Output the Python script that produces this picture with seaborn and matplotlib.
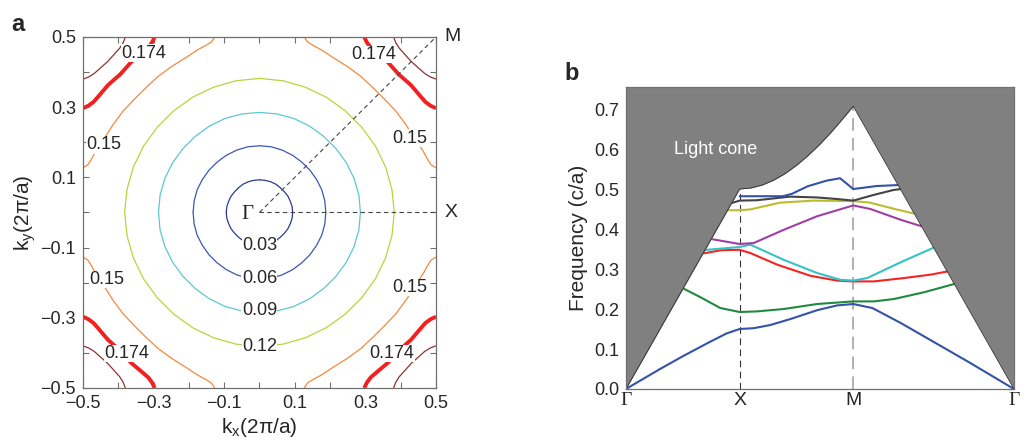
import numpy as np
import pandas as pd
import matplotlib
matplotlib.use('Agg')
import matplotlib.pyplot as plt
import seaborn as sns

##DATA
# panel a: iso-frequency contours of band 1, read in the first quadrant (mirrored by symmetry)
circle_angles = [0, 10, 20, 30, 40, 50, 60, 70, 80, 90]
r_003 = [0.094, 0.094, 0.093, 0.093, 0.092, 0.092, 0.093, 0.093, 0.093, 0.093]
r_006 = [0.188, 0.188, 0.188, 0.187, 0.187, 0.187, 0.188, 0.189, 0.190, 0.190]
r_009 = [0.286, 0.286, 0.285, 0.284, 0.283, 0.283, 0.284, 0.285, 0.285, 0.285]
r_012 = [0.382, 0.381, 0.380, 0.379, 0.378, 0.378, 0.379, 0.380, 0.381, 0.382]

c015_kx = [0.127, 0.136, 0.150, 0.174, 0.212, 0.250, 0.288, 0.321, 0.356, 0.387, 0.415, 0.439, 0.464, 0.477, 0.486, 0.500]
c015_ky = c015_kx[::-1]
c0174_kx = [0.297, 0.304, 0.315, 0.330, 0.363, 0.394, 0.429, 0.457, 0.470, 0.485, 0.500]
c0174_ky = c0174_kx[::-1]
c019_kx = [0.380, 0.386, 0.396, 0.430, 0.468, 0.484, 0.500]
c019_ky = c019_kx[::-1]

clabel_text = ['0.03', '0.06', '0.09', '0.12', '0.15', '0.15', '0.15', '0.15', '0.174', '0.174', '0.174', '0.174']
clabel_x = [0.0, 0.0, 0.0, 0.0, -0.442, -0.432, 0.425, 0.425, -0.328, 0.323, -0.375, 0.375]
clabel_y = [-0.093, -0.188, -0.280, -0.383, 0.193, -0.191, 0.212, -0.214, 0.454, 0.450, -0.402, -0.402]

# panel b: band structure along Gamma-X-M-Gamma (path length in 2pi/a)
sym_pos = [0.0, 0.5, 1.0, 1.707]
sym_labels = ['Γ', 'X', 'M', 'Γ']

light_k = [0.0, 0.5, 0.55, 0.6, 0.65, 0.7, 0.75, 0.8, 0.85, 0.9, 0.95, 1.0, 1.707]
light_f = [0.0, 0.5, 0.5025, 0.51, 0.522, 0.5385, 0.559, 0.583, 0.61, 0.64, 0.673, 0.707, 0.0]

k1 = [0, 0.15, 0.252, 0.37, 0.443, 0.5, 0.562, 0.635, 0.724, 0.841, 0.929, 1.0, 1.084, 1.209, 1.356, 1.503, 1.707]
f1 = [0, 0.05, 0.0825, 0.118, 0.139, 0.150, 0.152, 0.16, 0.175, 0.197, 0.209, 0.2125, 0.2025, 0.165, 0.117, 0.069, 0]
k2 = [0.25, 0.326, 0.415, 0.5, 0.576, 0.694, 0.841, 1.0, 1.091, 1.179, 1.312, 1.447]
f2 = [0.252, 0.23, 0.2025, 0.1925, 0.194, 0.2, 0.2125, 0.219, 0.219, 0.225, 0.242, 0.263]
k3 = [0.331, 0.419, 0.5, 0.547, 0.665, 0.812, 0.929, 1.0, 1.091, 1.224, 1.341, 1.415]
f3 = [0.338, 0.347, 0.348, 0.34, 0.311, 0.283, 0.271, 0.269, 0.269, 0.2775, 0.286, 0.294]
k4 = [0.346, 0.5, 0.547, 0.694, 0.841, 0.944, 1.0, 1.062, 1.209, 1.356]
f4 = [0.3475, 0.355, 0.361, 0.323, 0.29, 0.273, 0.271, 0.2775, 0.317, 0.354]
k5 = [0.375, 0.5, 0.562, 0.694, 0.841, 1.0, 1.076, 1.209, 1.3]
f5 = [0.375, 0.3625, 0.365, 0.398, 0.432, 0.459, 0.45, 0.423, 0.407]
k6 = [0.444, 0.5, 0.547, 0.678, 0.824, 1.0, 1.073, 1.19, 1.265]
f6 = [0.447, 0.447, 0.449, 0.466, 0.471, 0.47, 0.466, 0.449, 0.439]
k7 = [0.459, 0.5, 0.576, 0.722, 0.839, 0.929, 1.0, 1.088, 1.176, 1.209]
f7 = [0.464, 0.471, 0.472, 0.481, 0.479, 0.475, 0.471, 0.485, 0.4975, 0.5]
k8 = [0.5, 0.69, 0.73, 0.80, 0.883, 0.942, 1.0, 1.103, 1.2]
f8 = [0.482, 0.482, 0.488, 0.507, 0.521, 0.527, 0.5, 0.5075, 0.51]

band_colors = ['#3352a8', '#1f8a3e', '#f52424', '#33c2c6', '#a23ea3', '#bcbc2e', '#444444', '#3352a8']

##STYLE
sns.set_theme(style='ticks')
plt.rcParams['font.family'] = ['Liberation Sans', 'DejaVu Sans']
plt.rcParams['mathtext.default'] = 'regular'
edge = '#707070'

fig = plt.figure(figsize=(10.27, 4.48), dpi=100)
ax1 = fig.add_axes([0.0808, 0.134, 0.3437, 0.7835])
ax2 = fig.add_axes([0.6095, 0.1317, 0.3778, 0.674])

##PANEL A
quadrants = [(1, 1), (-1, 1), (-1, -1), (1, -1)]
th = np.deg2rad(circle_angles)
circles = [(r_003, '#2d3a92'), (r_006, '#3b58b2'), (r_009, '#5cc8d2'), (r_012, '#bdd23c')]
for radii, col in circles:
    cx = np.array(radii) * np.cos(th)
    cy = np.array(radii) * np.sin(th)
    for sx, sy in quadrants:
        ax1.plot(sx * cx, sy * cy, color=col, lw=0.9, zorder=2)

open_lines = [(c015_kx, c015_ky, '#f5883a', 0.9),
              (c0174_kx, c0174_ky, '#f22020', 2.8),
              (c019_kx, c019_ky, '#8e3232', 0.9)]
for kx, ky, col, w in open_lines:
    for sx, sy in quadrants:
        ax1.plot(sx * np.array(kx), sy * np.array(ky), color=col, lw=w, zorder=2,
                 solid_capstyle='butt')

# high-symmetry path
ax1.plot([0, 0.5], [0, 0], color='#444444', lw=0.8, dashes=(4, 3), zorder=3)
ax1.plot([0, 0.5], [0, 0.5], color='#444444', lw=0.8, dashes=(4, 3), zorder=3)

for t, x, y in zip(clabel_text, clabel_x, clabel_y):
    ax1.text(x, y, t, fontsize=13, ha='center', va='center', zorder=4,
             bbox=dict(fc='white', ec='none', pad=0.3))

ax1.text(-0.033, -0.005, 'Γ', fontsize=15, family='Liberation Serif', ha='center', va='center')
ax1.text(0.525, 0.0, 'X', fontsize=14, ha='left', va='center', clip_on=False)
ax1.text(0.525, 0.5, 'M', fontsize=14, ha='left', va='center', clip_on=False)

ax1.set_xlim(-0.5, 0.5)
ax1.set_ylim(-0.5, 0.5)
ax1.set_xticks([-0.5, -0.3, -0.1, 0.1, 0.3, 0.5])
ax1.set_yticks([-0.5, -0.3, -0.1, 0.1, 0.3, 0.5])
ax1.set_xticks([-0.4, -0.2, 0.0, 0.2, 0.4], minor=True)
ax1.set_yticks([-0.4, -0.2, 0.0, 0.2, 0.4], minor=True)
ax1.set_xticklabels(['\u22120.5', '\u22120.3', '\u22120.1', '0.1', '0.3', '0.5'])
ax1.set_yticklabels(['\u22120.5', '\u22120.3', '\u22120.1', '0.1', '0.3', '0.5'])
ax1.tick_params(which='both', direction='in', top=True, right=True, length=4,
                width=0.8, color=edge, labelsize=13, pad=5)
ax1.set_xlabel('k$_x$(2π/a)', fontsize=15, labelpad=3)
ax1.set_ylabel('k$_y$(2π/a)', fontsize=15, labelpad=2)
for s in ax1.spines.values():
    s.set_color(edge)
    s.set_linewidth(0.9)

##PANEL B
ks = [k1, k2, k3, k4, k5, k6, k7, k8]
fs = [f1, f2, f3, f4, f5, f6, f7, f8]
bands = pd.concat([pd.DataFrame({'k': k, 'freq': f, 'band': i})
                   for i, (k, f) in enumerate(zip(ks, fs))], ignore_index=True)
sns.lineplot(data=bands, x='k', y='freq', hue='band', palette=band_colors,
             sort=False, estimator=None, legend=False, lw=1.5, ax=ax2, zorder=2)

ytop = 0.755
ax2.fill_between(light_k, light_f, ytop, color='#808080', lw=0, zorder=3)
ax2.plot(light_k, light_f, color='#303030', lw=0.6, zorder=4)
ax2.plot([0.5, 0.5], [0, 0.5], color='#333333', lw=0.8, dashes=(6, 4), zorder=1)
ax2.plot([1.0, 1.0], [0, 0.707], color='#aaaaaa', lw=1.3, dashes=(7, 4), zorder=1)
ax2.text(0.393, 0.6, 'Light cone', color='white', fontsize=13, ha='center', va='center', zorder=5)

ax2.set_xlim(0, 1.707)
ax2.set_ylim(0, ytop)
ax2.set_xticks(sym_pos)
ax2.set_xticklabels(sym_labels)
for lab in ax2.get_xticklabels():
    if lab.get_text() == 'Γ':
        lab.set_family('Liberation Serif')
        lab.set_fontsize(15)
ax2.set_yticks(np.arange(0, 0.71, 0.1))
ax2.set_yticklabels(['%.1f' % v for v in np.arange(0, 0.71, 0.1)])
ax2.tick_params(axis='y', direction='in', right=True, length=4, width=0.8,
                color='#505050', labelsize=13, pad=5)
ax2.tick_params(axis='x', length=0, labelsize=14, pad=2)
ax2.set_xlabel('')
ax2.set_ylabel('Frequency (c/a)', fontsize=15, labelpad=4)
for s in ax2.spines.values():
    s.set_color(edge)
    s.set_linewidth(0.9)
    s.set_zorder(6)

fig.text(0.011, 0.972, 'a', fontsize=17, fontweight='bold', va='top')
fig.text(0.550, 0.862, 'b', fontsize=17, fontweight='bold', va='top')

plt.savefig('out.png', dpi=100)
plt.close()
